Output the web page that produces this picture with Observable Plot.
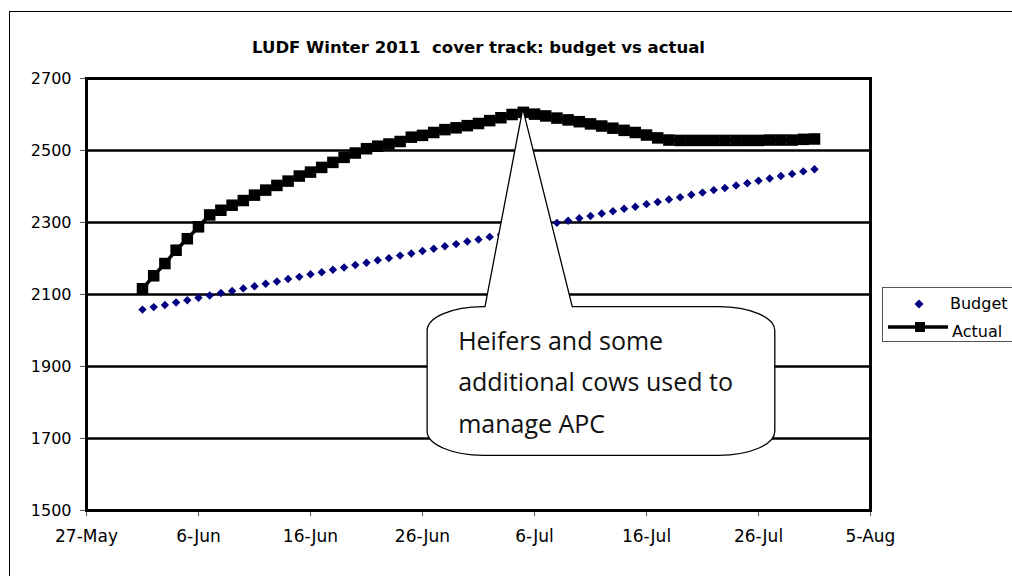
<!DOCTYPE html>
<html><head><meta charset="utf-8">
<script src="https://cdn.jsdelivr.net/npm/d3@7"></script>
<script src="https://cdn.jsdelivr.net/npm/@observablehq/plot@0.6"></script>
<style>
html,body{margin:0;padding:0;background:#fff;overflow:hidden;width:1012px;height:576px;}
#wrap{position:relative;width:1012px;height:576px;}
#border{position:absolute;left:9px;top:11px;width:1100px;height:700px;border:1px solid #000;box-sizing:border-box;}
#chart{position:absolute;left:0;top:0;}
#legend{position:absolute;left:882px;top:287px;width:200px;height:55px;border:1px solid #555;background:#fff;box-sizing:border-box;}
</style></head><body>
<div id="wrap"><div id="border"></div><div id="chart"></div><div id="legend"></div></div>
<script>
const title = "LUDF Winter 2011  cover track: budget vs actual";
const firstDay = "2011-06-01";
const lastDay = "2011-07-31";
const budget = [2058, 2065, 2071, 2078, 2084, 2091, 2097, 2104, 2110, 2117,
  2123, 2130, 2136, 2143, 2149, 2156, 2162, 2169, 2175, 2182,
  2188, 2195, 2201, 2208, 2214, 2221, 2227, 2234, 2240, 2247,
  2253, 2260, 2266, 2273, 2279, 2286, 2292, 2299, 2305, 2312,
  2318, 2325, 2331, 2338, 2344, 2351, 2357, 2364, 2370, 2377,
  2383, 2390, 2396, 2403, 2409, 2416, 2422, 2429, 2435, 2442, 2448];
const actual = [2116, 2152, 2186, 2223, 2255, 2288, 2321, 2334, 2348, 2361,
  2376, 2390, 2403, 2415, 2429, 2440, 2453, 2467, 2481, 2493,
  2505, 2512, 2518, 2525, 2537, 2542, 2550, 2558,
  2563, 2569, 2575, 2583, 2591, 2600, 2606, 2601, 2596, 2590,
  2585, 2580, 2574, 2568, 2562, 2556, 2550, 2543, 2535, 2529,
  2528, 2528, 2528, 2528, 2528, 2528, 2528, 2528, 2529, 2529, 2529, 2531, 2532];
const xTickDates = ["2011-05-27","2011-06-06","2011-06-16","2011-06-26","2011-07-06","2011-07-16","2011-07-26","2011-08-05"];
const xTickLabels = ["27-May","6-Jun","16-Jun","26-Jun","6-Jul","16-Jul","26-Jul","5-Aug"];
const yTicks = [1500, 1700, 1900, 2100, 2300, 2500, 2700];
const seriesNames = ["Budget", "Actual"];
const calloutLines = ["Heifers and some", "additional cows used to", "manage APC"];
// callout box in data space (dates / cover values)
const calloutX = ["2011-06-26T11:00Z", "2011-07-27T12:00Z"];
const calloutY = [2065, 1652];
const calloutWedgeX = ["2011-07-01T15:00Z", "2011-07-09T10:00Z"];

const parse = d3.utcParse("%Y-%m-%d");
const days = d3.utcDays(parse(firstDay), d3.utcDay.offset(parse(lastDay), 1));
const data = days.map((d, i) => ({date: d, budget: budget[i], actual: actual[i]}));
const tickMap = new Map(xTickDates.map((s, i) => [+parse(s), xTickLabels[i]]));
const FONT = "DejaVu Sans, Arial, sans-serif";

const plot = Plot.plot({
  width: 1012, height: 576,
  marginLeft: 86, marginRight: 142, marginTop: 78, marginBottom: 66,
  style: {fontFamily: FONT, background: "transparent", overflow: "visible", color: "#000"},
  x: {type: "utc", domain: [parse(xTickDates[0]), parse(xTickDates[xTickDates.length - 1])]},
  y: {domain: [yTicks[0], yTicks[yTicks.length - 1]]},
  marks: [
    Plot.ruleY(yTicks, {stroke: "#000", strokeWidth: 2.6}),
    Plot.axisY({ticks: yTicks, tickSize: 6, tickPadding: 9, fontSize: 16, stroke: "#555", fill: "#000", label: null, tickFormat: d => String(d)}),
    Plot.axisX({ticks: xTickDates.map(parse), tickSize: 6, tickPadding: 13, fontSize: 17, stroke: "#555", fill: "#000", label: null, tickFormat: d => tickMap.get(+d)}),
    Plot.dot(data, {x: "date", y: "budget", symbol: "diamond2", r: 3.8, fill: "#000080"}),
    Plot.line(data, {x: "date", y: "actual", stroke: "#000", strokeWidth: 3.5}),
    Plot.dot(data, {x: "date", y: "actual", symbol: "square", r: 6.5, fill: "#000"}),
    Plot.frame({stroke: "#000", strokeWidth: 3}),
    Plot.text([title], {frameAnchor: "top", dy: -37, fontSize: 16.5, fontWeight: "bold", fill: "#000"})
  ]
});
document.getElementById("chart").appendChild(plot);

// callout
const sx = plot.scale("x"), sy = plot.scale("y");
const peak = d3.greatest(data, d => d.actual);
const ax = sx.apply(peak.date), ay = sy.apply(peak.actual) - 3;
const x0 = sx.apply(new Date(calloutX[0])), x1 = sx.apply(new Date(calloutX[1]));
const y0 = sy.apply(calloutY[0]), y1 = sy.apply(calloutY[1]);
const wl = sx.apply(new Date(calloutWedgeX[0])), wr = sx.apply(new Date(calloutWedgeX[1]));
const rx = 56, ry = 24;
const pathStr = `M${x0},${y0 + ry} A${rx},${ry} 0 0 1 ${x0 + rx},${y0} L${wl},${y0} L${ax},${ay} L${wr},${y0} L${x1 - rx},${y0} A${rx},${ry} 0 0 1 ${x1},${y0 + ry} L${x1},${y1 - ry} A${rx},${ry} 0 0 1 ${x1 - rx},${y1} L${x0 + rx},${y1} A${rx},${ry} 0 0 1 ${x0},${y1 - ry} Z`;
const g = d3.select(plot).append("g");
g.append("path").attr("d", pathStr).attr("fill", "#fff").attr("stroke", "#000").attr("stroke-width", 1.3).attr("stroke-linejoin", "miter");
g.selectAll("text.c").data(calloutLines).join("text")
  .attr("x", x0 + 31).attr("y", (d, i) => y0 + 43 + i * 41.5)
  .attr("text-anchor", "start")
  .attr("font-family", "Open Sans, sans-serif").attr("font-size", 25).attr("fill", "#111")
  .text(d => d);

// legend
const lg = d3.select("#legend").append("svg").attr("width", 200).attr("height", 55)
  .style("font-family", FONT).style("font-size", "16px");
lg.append("path").attr("d", "M36,11.5L40.5,16L36,20.5L31.5,16Z").attr("fill", "#000080");
lg.append("text").attr("x", 67).attr("y", 21).text(seriesNames[0]);
lg.append("line").attr("x1", 5).attr("x2", 65).attr("y1", 39).attr("y2", 39).attr("stroke", "#000").attr("stroke-width", 3.5);
lg.append("rect").attr("x", 32).attr("y", 34).attr("width", 10).attr("height", 10).attr("fill", "#000");
lg.append("text").attr("x", 69).attr("y", 49).text(seriesNames[1]);
</script>
</body></html>
